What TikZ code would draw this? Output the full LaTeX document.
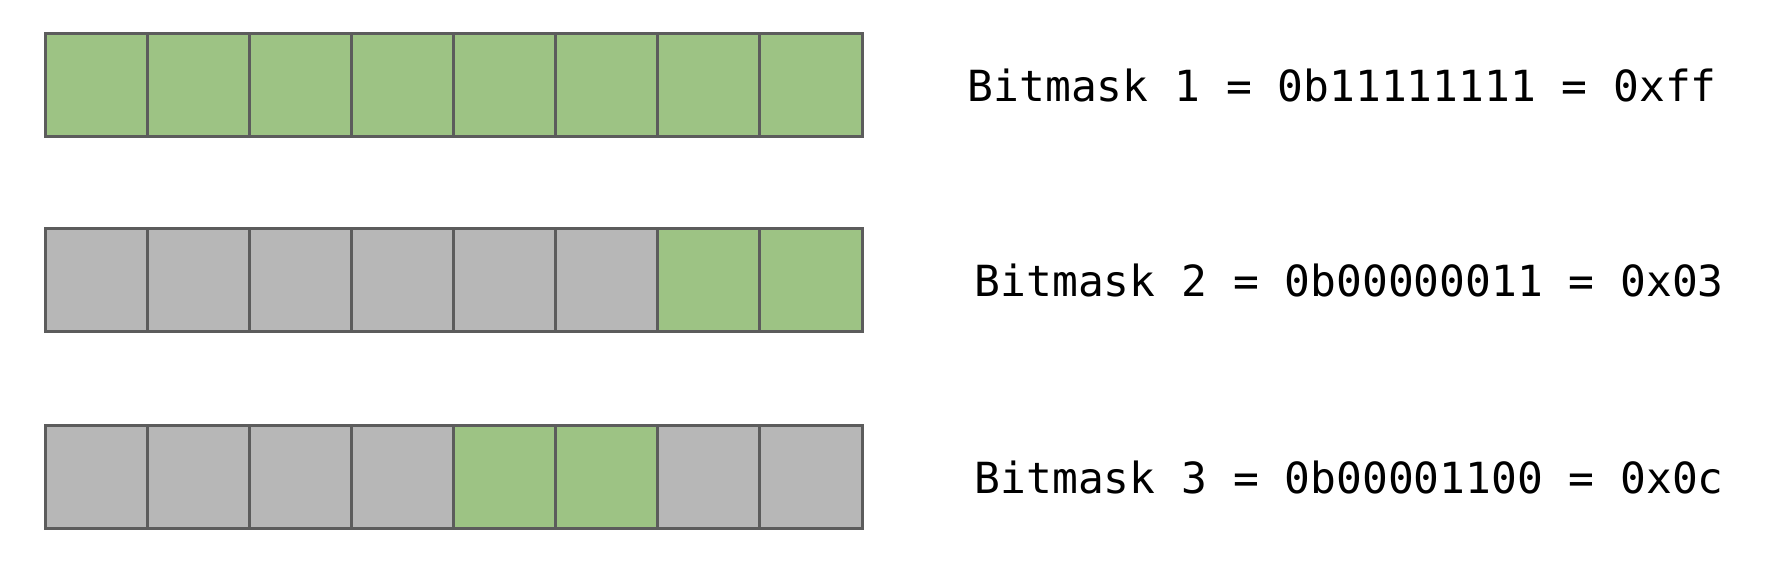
\documentclass[tikz,border=0pt]{standalone}
\usepackage{fontspec}
\usetikzlibrary{positioning}
\newfontfamily\maskfont{DejaVu Sans Mono}
\definecolor{bitgreen}{RGB}{157,195,132}
\definecolor{bitgrey}{RGB}{183,183,183}
\definecolor{bitedge}{RGB}{92,92,92}
\tikzset{
  bit/.style={
    draw=bitedge,
    line width=0.85pt,
    minimum size=1.02cm,
    inner sep=0pt,
    outer sep=0pt
  },
  masklabel/.style={
    anchor=west,
    inner sep=0pt,
    font=\maskfont\fontsize{12.2}{14}\selectfont
  }
}

\begin{document}
\begin{tikzpicture}[x=0.01cm, y=-0.01cm]
  \useasboundingbox (0,0) rectangle (1782,560);
  \foreach \r/\y/\gap/\bits/\hex in {1/85/1.05/{1,1,1,1,1,1,1,1}/ff,
                                     2/280/1.12/{0,0,0,0,0,0,1,1}/03,
                                     3/477/1.12/{0,0,0,0,1,1,0,0}/0c} {
    \foreach \b [count=\i] in \bits {
      \ifnum\b=1 \def\cellfill{bitgreen}\else\def\cellfill{bitgrey}\fi
      \node[bit, fill=\cellfill] (cell-\r-\i) at ({97+102*(\i-1)},\y) {};
    }
    \node[masklabel, right=\gap cm of cell-\r-8]
      (label-\r) {Bitmask \r\ = 0b\foreach \b in \bits {\b} = 0x\hex};
  }
\end{tikzpicture}
\end{document}
